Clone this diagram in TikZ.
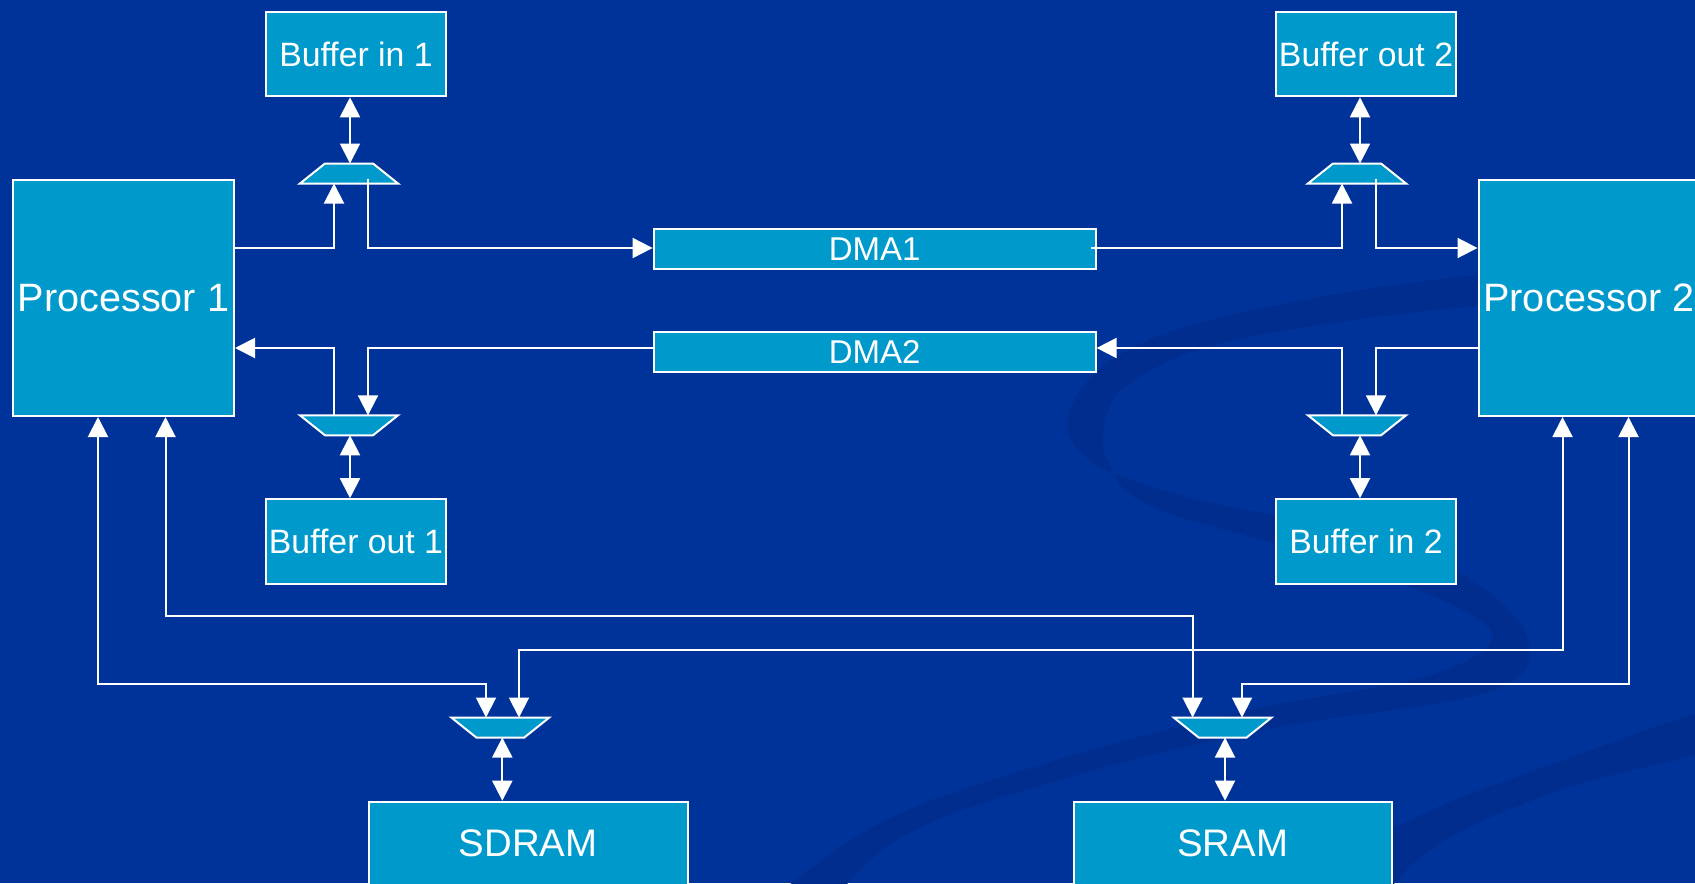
\documentclass[tikz,border=0pt]{standalone}
\usepackage{fontspec}
\setmainfont{Liberation Sans}
\usetikzlibrary{arrows.meta,calc}
\definecolor{bg}{RGB}{0,51,153}
\definecolor{boxc}{RGB}{0,153,204}
\definecolor{rib}{RGB}{0,45,142}
\begin{document}
\begin{tikzpicture}[x=0.5pt,y=-0.5pt,
  box/.style={draw=white, line width=1pt, fill=boxc, text=white, inner sep=0pt},
  buf/.style={box, minimum width=90pt, minimum height=42.3pt, font=\fontsize{16.9}{18}\selectfont},
  proc/.style={box, minimum width=110.5pt, minimum height=118pt, font=\fontsize{19.8}{22}\selectfont},
  dma/.style={box, minimum width=221pt, minimum height=20pt, font=\fontsize{16.5}{18}\selectfont},
  mem/.style={box, minimum width=159.3pt, minimum height=42pt, font=\fontsize{19.2}{22}\selectfont},
  mux/.style={rectangle, inner sep=0pt, outer sep=0pt, minimum width=49pt, minimum height=10pt},
  muxline/.style={draw=white, fill=boxc, line width=1pt, line join=miter},
  arr/.style={draw=white, line width=1pt, -{Triangle[length=10pt,width=10pt]}},
  dbl/.style={draw=white, line width=1pt, {Triangle[length=10pt,width=10pt]}-{Triangle[length=10pt,width=10pt]}}]
\useasboundingbox (0,0) rectangle (1695,883);
\clip (0,0) rectangle (1695,883);
\fill[bg] (0,0) rectangle (1695,883);
% background ribbons
\fill[rib] plot[smooth cycle, tension=0.6] coordinates {(1720,268) (1477,275) (1235,314) (1116,357) (1068,417) (1094,463) (1187,497) (1320,526) (1460,573) (1528,640) (1488,692) (1262,730) (1060,780) (900,838) (800,930) (740,930) (875,826) (1050,762) (1250,710) (1420,678) (1492,640) (1442,600) (1300,551) (1150,506) (1108,462) (1106,417) (1135,380) (1235,340) (1477,306) (1720,297)};
\fill[rib] plot[smooth cycle, tension=0.6] coordinates {(1720,708) (1550,765) (1420,815) (1330,870) (1290,930) (1350,930) (1430,850) (1560,790) (1720,746)};
% boxes
\node[buf] (bin1) at (356,54) {Buffer in 1};
\node[buf] (bout1) at (356,541.5) {Buffer out 1};
\node[buf] (bout2) at (1366,54) {Buffer out 2};
\node[buf] (bin2) at (1366,541.5) {Buffer in 2};
\node[proc] (P1) at (123.5,298) {Processor 1};
\node[proc] (P2) at (1589,298) {Processor 2};
\node[dma] (DMA1) at (874.6,249.3) {DMA1};
\node[dma] (DMA2) at (874.6,351.7) {DMA2};
\node[mem] (SDRAM) at (528.2,843.7) {SDRAM};
\node[mem] (SRAM) at (1232.8,843.7) {SRAM};
% muxes (named frames, trapezoids drawn on them)
\node[mux] (m1) at (349,173.5) {};
\node[mux] (m2) at (349,425.3) {};
\node[mux] (m3) at (1357,173.5) {};
\node[mux] (m4) at (1357,425.3) {};
\node[mux] (mSD) at (500.3,727.5) {};
\node[mux] (mSR) at (1222.6,727.5) {};
\foreach \m in {m1,m3}
  \draw[muxline] (\m.south west) -- ($(\m.north west)+(25,0)$) -- ($(\m.north east)+(-25,0)$) -- (\m.south east) -- cycle;
\foreach \m in {m2,m4,mSD,mSR}
  \draw[muxline] (\m.north west) -- ($(\m.south west)+(25,0)$) -- ($(\m.south east)+(-25,0)$) -- (\m.north east) -- cycle;
% pins
\path ($(m1.center)+(1,-10)$) coordinate (m1t) ($(m1.center)+(-15,10)$) coordinate (m1a) ($(m1.center)+(19,10)$) coordinate (m1b);
\path ($(m3.center)+(3,-10)$) coordinate (m3t) ($(m3.center)+(-15,10)$) coordinate (m3a) ($(m3.center)+(19,10)$) coordinate (m3b);
\path ($(m2.center)+(1,10)$) coordinate (m2t) ($(m2.center)+(-15,-10)$) coordinate (m2a) ($(m2.center)+(19,-10)$) coordinate (m2b);
\path ($(m4.center)+(3,10)$) coordinate (m4t) ($(m4.center)+(-15,-10)$) coordinate (m4a) ($(m4.center)+(19,-10)$) coordinate (m4b);
\path ($(mSD.center)+(2,10)$) coordinate (mSDt) ($(mSD.center)+(-14.3,-10)$) coordinate (mSDa) ($(mSD.center)+(18.7,-10)$) coordinate (mSDb);
\path ($(mSR.center)+(2.4,10)$) coordinate (mSRt) ($(mSR.center)+(-30,-10)$) coordinate (mSRa) ($(mSR.center)+(19.4,-10)$) coordinate (mSRb);
\coordinate (yA) at (0,248);
\coordinate (yB) at (0,348);
\coordinate (k1) at (98,683.5);
\coordinate (k2) at (165.5,616);
\coordinate (k3) at (1562.5,649.5);
\coordinate (k4) at (1628.5,683.5);
% connectors: top
\draw[dbl] (m1t) -- (m1t |- bin1.south);
\draw[arr] (P1.east |- yA) -| (m1a);
\draw[arr] ($(m1b)+(0,-5)$) |- (DMA1.west |- yA);
\draw[arr] ($(DMA1.east |- yA)+(-6,0)$) -| (m3a);
\draw[arr] ($(m3b)+(0,-5)$) |- (P2.west |- yA);
\draw[dbl] (m3t) -- (m3t |- bout2.south);
% connectors: DMA2 row
\draw[arr] (DMA2.west |- yB) -| (m2b);
\draw[arr] (m2a) |- (P1.east |- yB);
\draw[dbl] (m2t) -- (m2t |- bout1.north);
\draw[arr] (P2.west |- yB) -| (m4b);
\draw[arr] (m4a) |- (DMA2.east |- yB);
\draw[dbl] (m4t) -- (m4t |- bin2.north);
% connectors: memory buses
\draw[dbl] (P1.south -| k1) -- (k1) -| (mSDa);
\draw[dbl] (P1.south -| k2) -- (k2) -| (mSRa);
\draw[dbl] (P2.south -| k3) -- (k3) -| (mSDb);
\draw[dbl] (P2.south -| k4) -- (k4) -| (mSRb);
\draw[dbl] (mSDt) -- (mSDt |- SDRAM.north);
\draw[dbl] (mSRt) -- (mSRt |- SRAM.north);
\end{tikzpicture}
\end{document}
